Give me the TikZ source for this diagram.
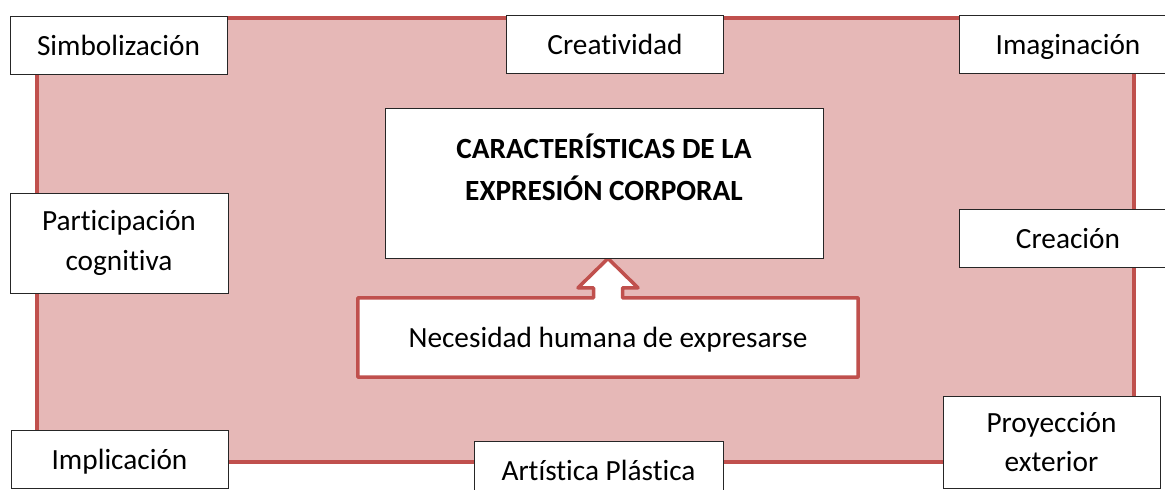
\documentclass[tikz,border=0pt]{standalone}
\usepackage{fontspec}
\setmainfont{Carlito}[Ligatures=NoCommon]
\usetikzlibrary{positioning, calc, backgrounds}
\definecolor{rosefill}{HTML}{E6B8B7}
\definecolor{roseline}{HTML}{C0504D}

\begin{document}
\begin{tikzpicture}[x=1pt, y=-1pt,
	box/.style={draw=black!85, line width=0.9pt, fill=white, inner sep=0pt,
		minimum width=217pt, minimum height=58pt,
		font=\fontsize{29.3}{40}\selectfont},
	oneline/.style={box, text height=20pt, text depth=0pt},
	twoline/.style={box, align=center},
	callout/.style={draw=roseline, fill=white, line width=3.5pt, line join=round}]
	\useasboundingbox (0,0) rectangle (1165,490);
	
	% Outer boxes
	\foreach \name/\cx/\cy/\txt in {simb/118.5/45/Simbolización, crea/615/44/Creatividad,
		imag/1068/44/Imaginación, creac/1068/238/Creación, impl/119.5/459.5/Implicación}
	\node[oneline] (\name) at (\cx,\cy) {\txt};
	\node[oneline, minimum width=249pt] (art) at (598.5,470) {Artística Plástica};
	\node[twoline, minimum width=218pt, minimum height=100pt] (part) at (119,243) {Participación\\cognitiva};
	\node[twoline, minimum height=92pt, font=\fontsize{29.3}{39}\selectfont] (proy) at (1051.5,442)
		{\rule{0pt}{14pt}Proyección\\exterior};
	
	% Central box
	\node[box, minimum width=438pt, minimum height=150pt] (main) at (604,183) {};
	\node[font=\fontsize{29.3}{42}\selectfont\bfseries, align=center, inner sep=0pt,
		below=26pt of main.north] (title) {CARACTERÍSTICAS DE LA\\EXPRESIÓN CORPORAL};
	
	% Callout with arrow
	\node[inner sep=0pt, minimum width=500pt, minimum height=79pt, text height=20pt, text depth=0pt,
		font=\fontsize{29.3}{40}\selectfont] (nec) at (608,337.5) {Necesidad humana de expresarse};
	
	\begin{scope}[on background layer]
		% Draw frame
		\filldraw[fill=rosefill, draw=roseline, line width=4.5pt] (37,18) rectangle (1134,462);
		% Draw callout outline
		\filldraw[callout] (nec.north west) -- ($(nec.north)+(-14.5,0)$) -- ($(nec.north)+(-14.5,-10)$)
			-- ($(nec.north)+(-30,-10)$) -- (main.south -| nec.north) -- ($(nec.north)+(30,-10)$)
			-- ($(nec.north)+(14.5,-10)$) -- ($(nec.north)+(14.5,0)$) -- (nec.north east)
			-- (nec.south east) -- (nec.south west) -- cycle;
	\end{scope}
\end{tikzpicture}
\end{document}
